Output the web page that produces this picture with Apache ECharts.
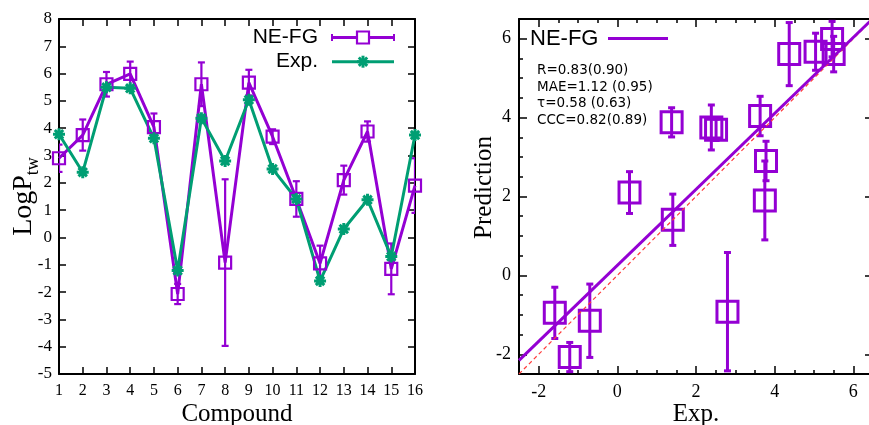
<!DOCTYPE html>
<html><head><meta charset="utf-8">
<script src="https://cdn.jsdelivr.net/npm/echarts@6/dist/echarts.min.js"></script>
<style>html,body{margin:0;padding:0;background:#fff}#c{width:869px;height:425px}</style>
</head><body><div id="c"></div>
<script>
// ---- data ----
const compounds = [1,2,3,4,5,6,7,8,9,10,11,12,13,14,15,16];
const neFG     = [2.90,3.75,5.61,5.99,4.04,-2.07,5.61,-0.92,5.67,3.69,1.41,-0.95,2.10,3.88,-1.15,1.90];
const expVals  = [3.78,2.39,5.50,5.46,3.63,-1.21,4.37,2.80,5.04,2.51,1.41,-1.59,0.31,1.38,-0.70,3.75];
const neErrLeft  = [0.50,0.57,0.45,0.45,0.50,0.37,0.80,3.05,0.47,0.27,0.65,0.65,0.53,0.37,0.93,1.00];
const neErrRight = [0.50,0.57,0.45,0.45,0.50,0.37,0.80,1.50,0.47,0.27,0.65,0.65,0.53,0.37,0.93,1.00];
const statsLines = ['R=0.83(0.90)','MAE=1.12 (0.95)','\u03c4=0.58 (0.63)','CCC=0.82(0.89)'];
const scatterRange = [-2.5, 6.5];

// ---- styles ----
const PURPLE = '#9400d3', GREEN = '#009e73', RED = '#ff3c3c';
const SERIF = 'Liberation Serif', SANS = 'Liberation Sans';

function linFit(xs, ys){
  const n = xs.length;
  const mx = xs.reduce((a,b)=>a+b,0)/n, my = ys.reduce((a,b)=>a+b,0)/n;
  let sxy=0, sxx=0;
  for(let i=0;i<n;i++){ sxy+=(xs[i]-mx)*(ys[i]-my); sxx+=(xs[i]-mx)*(xs[i]-mx); }
  const b = sxy/sxx; return {a: my-b*mx, b};
}
const fit = linFit(expVals, neFG);

function errRender(capW, lw){
  return function(params, api){
    const x = api.value(0), y = api.value(1), e = api.value(2);
    const t = api.coord([x, y+e]), b = api.coord([x, y-e]);
    const style = {stroke: PURPLE, lineWidth: lw, fill: null};
    return {type:'group', children:[
      {type:'line', shape:{x1:t[0],y1:t[1],x2:b[0],y2:b[1]}, style},
      {type:'line', shape:{x1:t[0]-capW,y1:t[1],x2:t[0]+capW,y2:t[1]}, style},
      {type:'line', shape:{x1:b[0]-capW,y1:b[1],x2:b[0]+capW,y2:b[1]}, style}
    ]};
  };
}

const lineAx = {onZero:false, lineStyle:{color:'#000', width:2}};
function tick(len){ return {inside:true, length:len, lineStyle:{color:'#000', width:1.5}}; }
const STAR = 'path://M0 5L10 5M5 0L5 10M1.5 1.5L8.5 8.5M8.5 1.5L1.5 8.5';

const option = {
  animation:false,
  backgroundColor:'#fff',
  grid:[
    {left:59, top:19, width:356, height:355, outerBoundsMode:'none', containLabel:false},
    {left:519, top:19, width:354, height:355, outerBoundsMode:'none', containLabel:false}
  ],
  xAxis:[
    {gridIndex:0, type:'value', min:1, max:16, interval:1, position:'bottom',
     axisLine:lineAx, axisTick:tick(7), splitLine:{show:false},
     axisLabel:{color:'#000', fontFamily:SERIF, fontSize:16, margin:9},
     name:'Compound', nameLocation:'middle', nameGap:28, nameMoveOverlap:false,
     nameTextStyle:{color:'#000', fontFamily:SERIF, fontSize:25}},
    {gridIndex:0, type:'value', min:1, max:16, interval:1, position:'top',
     axisLine:lineAx, axisTick:tick(7), splitLine:{show:false}, axisLabel:{show:false}},
    {gridIndex:1, type:'value', min:scatterRange[0], max:scatterRange[1], splitNumber:5, position:'bottom',
     axisLine:lineAx, axisTick:tick(8), splitLine:{show:false},
     minorTick:{show:true, splitNumber:4, length:4, lineStyle:{color:'#000', width:1.5}},
     axisLabel:{color:'#000', fontFamily:SERIF, fontSize:18, margin:9, showMinLabel:false, showMaxLabel:false},
     name:'Exp.', nameLocation:'middle', nameGap:28, nameMoveOverlap:false,
     nameTextStyle:{color:'#000', fontFamily:SERIF, fontSize:25}},
    {gridIndex:1, type:'value', min:scatterRange[0], max:scatterRange[1], splitNumber:5, position:'top',
     axisLine:lineAx, axisTick:tick(8), splitLine:{show:false},
     minorTick:{show:true, splitNumber:4, length:4, lineStyle:{color:'#000', width:1.5}},
     axisLabel:{show:false}}
  ],
  yAxis:[
    {gridIndex:0, type:'value', min:-5, max:8, interval:1, position:'left',
     axisLine:lineAx, axisTick:tick(7), splitLine:{show:false},
     axisLabel:{color:'#000', fontFamily:SERIF, fontSize:17, margin:7},
     name:'{a|LogP}{s|tw}', nameLocation:'middle', nameGap:17, nameRotate:90, nameMoveOverlap:false,
     nameTextStyle:{color:'#000', rich:{
       a:{fontFamily:SERIF, fontSize:28, color:'#000', lineHeight:36, verticalAlign:'middle'},
       s:{fontFamily:SERIF, fontSize:18, color:'#000', lineHeight:18, verticalAlign:'bottom'}}}},
    {gridIndex:0, type:'value', min:-5, max:8, interval:1, position:'right',
     axisLine:lineAx, axisTick:tick(7), splitLine:{show:false}, axisLabel:{show:false}},
    {gridIndex:1, type:'value', min:scatterRange[0], max:scatterRange[1], splitNumber:5, position:'left',
     axisLine:lineAx, axisTick:tick(8), splitLine:{show:false},
     minorTick:{show:true, splitNumber:4, length:4, lineStyle:{color:'#000', width:1.5}},
     axisLabel:{color:'#000', fontFamily:SERIF, fontSize:18, margin:8, showMinLabel:false, showMaxLabel:false},
     name:'Prediction', nameLocation:'middle', nameGap:22, nameRotate:90, nameMoveOverlap:false,
     nameTextStyle:{color:'#000', fontFamily:SERIF, fontSize:25, padding:[0,0,0,18]}},
    {gridIndex:1, type:'value', min:scatterRange[0], max:scatterRange[1], splitNumber:5, position:'right',
     axisLine:lineAx, axisTick:tick(8), splitLine:{show:false},
     minorTick:{show:true, splitNumber:4, length:4, lineStyle:{color:'#000', width:1.5}},
     axisLabel:{show:false}}
  ],
  series:[
    {type:'custom', xAxisIndex:0, yAxisIndex:0, silent:true, clip:true,
     renderItem:errRender(3.5, 2.2),
     data:compounds.map((c,i)=>[c, neFG[i], neErrLeft[i]]), encode:{x:0, y:1}},
    {type:'line', name:'NE-FG', xAxisIndex:0, yAxisIndex:0, silent:true,
     data:compounds.map((c,i)=>[c, neFG[i]]),
     symbol:'rect', symbolSize:12, showAllSymbol:true,
     itemStyle:{color:'rgba(0,0,0,0)', borderColor:PURPLE, borderWidth:2.2, opacity:1},
     lineStyle:{color:PURPLE, width:3}},
    {type:'line', name:'Exp.', xAxisIndex:0, yAxisIndex:0, silent:true,
     data:compounds.map((c,i)=>[c, expVals[i]]),
     symbol:STAR, symbolSize:12, showAllSymbol:true,
     itemStyle:{color:GREEN, borderColor:GREEN, borderWidth:3, opacity:1},
     lineStyle:{color:GREEN, width:3}},
    {type:'line', xAxisIndex:2, yAxisIndex:2, silent:true, symbol:'none', clip:true,
     data:scatterRange.map(v=>[v, v]),
     lineStyle:{color:RED, width:1.2, type:[4,3]}},
    {type:'custom', xAxisIndex:2, yAxisIndex:2, silent:true, clip:true,
     renderItem:errRender(3.5, 3),
     data:compounds.map((c,i)=>[expVals[i], neFG[i], neErrRight[i]]), encode:{x:0, y:1}},
    {type:'scatter', xAxisIndex:2, yAxisIndex:2, silent:true,
     data:compounds.map((c,i)=>[expVals[i], neFG[i]]),
     symbol:'rect', symbolSize:21,
     itemStyle:{color:'rgba(0,0,0,0)', borderColor:PURPLE, borderWidth:3, opacity:1}},
    {type:'line', xAxisIndex:2, yAxisIndex:2, silent:true, symbol:'none', clip:true,
     data:scatterRange.map(v=>[v, fit.a + fit.b*v]),
     lineStyle:{color:PURPLE, width:3}}
  ],
  graphic:[
    // left legend
    {type:'text', x:318, y:37.5, style:{text:'NE-FG', fill:'#000', fontFamily:SANS, fontSize:21, align:'right', verticalAlign:'middle'}},
    {type:'line', shape:{x1:332,y1:37.5,x2:394,y2:37.5}, style:{stroke:PURPLE, lineWidth:3}},
    {type:'line', shape:{x1:332,y1:34,x2:332,y2:41}, style:{stroke:PURPLE, lineWidth:2}},
    {type:'line', shape:{x1:394,y1:34,x2:394,y2:41}, style:{stroke:PURPLE, lineWidth:2}},
    {type:'rect', shape:{x:357,y:31.5,width:12,height:12}, style:{stroke:PURPLE, lineWidth:2.2, fill:'#fff'}},
    {type:'text', x:318, y:61.7, style:{text:'Exp.', fill:'#000', fontFamily:SANS, fontSize:21, align:'right', verticalAlign:'middle'}},
    {type:'line', shape:{x1:332,y1:61.7,x2:394,y2:61.7}, style:{stroke:GREEN, lineWidth:3}},
    {type:'line', shape:{x1:357,y1:61.7,x2:369,y2:61.7}, style:{stroke:GREEN, lineWidth:3}},
    {type:'line', shape:{x1:363,y1:55.7,x2:363,y2:67.7}, style:{stroke:GREEN, lineWidth:3}},
    {type:'line', shape:{x1:358.8,y1:57.5,x2:367.2,y2:65.9}, style:{stroke:GREEN, lineWidth:3}},
    {type:'line', shape:{x1:367.2,y1:57.5,x2:358.8,y2:65.9}, style:{stroke:GREEN, lineWidth:3}},
    // right legend
    {type:'text', x:530, y:38.5, style:{text:'NE-FG', fill:'#000', fontFamily:SANS, fontSize:22, align:'left', verticalAlign:'middle'}},
    {type:'line', shape:{x1:608,y1:38.5,x2:668,y2:38.5}, style:{stroke:PURPLE, lineWidth:3}},
    // stats
    {type:'text', x:537, y:70.3, style:{text:statsLines[0], fill:'#000', fontFamily:'DejaVu Sans', fontSize:13.5, verticalAlign:'middle'}},
    {type:'text', x:537, y:87.5, style:{text:statsLines[1], fill:'#000', fontFamily:'DejaVu Sans', fontSize:13.5, verticalAlign:'middle'}},
    {type:'text', x:537, y:103, style:{text:statsLines[2], fill:'#000', fontFamily:'DejaVu Sans', fontSize:13.5, verticalAlign:'middle'}},
    {type:'text', x:537, y:120, style:{text:statsLines[3], fill:'#000', fontFamily:'DejaVu Sans', fontSize:13.5, verticalAlign:'middle'}}
  ]
};
const chart = echarts.init(document.getElementById('c'), null, {renderer:'canvas'});
chart.setOption(option);
</script></body></html>
